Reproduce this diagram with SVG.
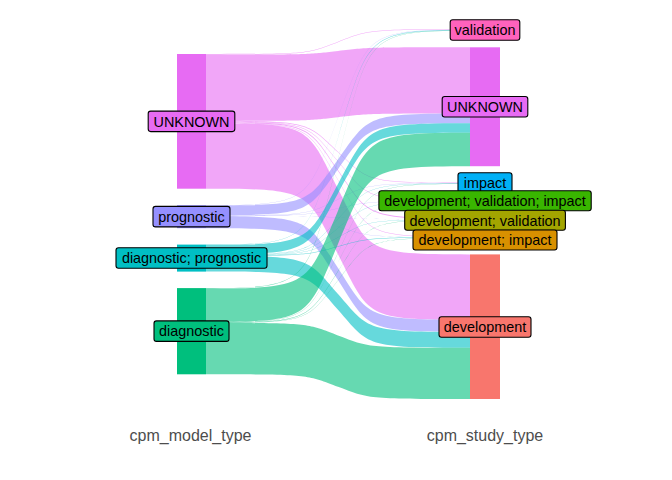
<svg xmlns="http://www.w3.org/2000/svg" width="672" height="480" viewBox="0 0 672 480">
<style>
.lbl{font-family:"Liberation Sans",Arial,sans-serif;font-size:14.4px;fill:#000;text-anchor:middle}
.axis{font-family:"Liberation Sans",Arial,sans-serif;font-size:16px;fill:#4D4D4D;text-anchor:middle}
.box{stroke:#000;stroke-width:1.1}
.fU{fill:#E76BF3;fill-opacity:0.6}
.fP{fill:#9590FF;fill-opacity:0.6}
.fDP{fill:#00BFC4;fill-opacity:0.6}
.fD{fill:#00BF7D;fill-opacity:0.6}
</style>
<rect width="672" height="480" fill="#fff"/>
<g id="connectors">
<path class="fU" d="M206,54 C311.6,54 306.3,53.5 338,41.7 C369.7,29.8 364.4,29.3 470,29.3 L470,29.8 C364.4,29.8 369.7,30.3 338,42.2 C306.3,54 311.6,54.5 206,54.5Z"/>
<path class="fU" d="M206,54.5 C311.6,54.5 306.3,54.4 338,50.9 C369.7,47.4 364.4,47.3 470,47.3 L470,113.6 C364.4,113.6 369.7,113.7 338,117.2 C306.3,120.7 311.6,120.8 206,120.8Z"/>
<path class="fU" d="M206,120.8 C311.6,120.8 306.3,122 338,151.7 C369.7,181.4 364.4,182.6 470,182.6 L470,183.2 C364.4,183.2 369.7,182 338,152.3 C306.3,122.6 311.6,121.4 206,121.4Z"/>
<path class="fU" d="M206,121.4 C311.6,121.4 306.3,123 338,161 C369.7,199 364.4,200.6 470,200.6 L470,201.1 C364.4,201.1 369.7,199.5 338,161.5 C306.3,123.5 311.6,121.9 206,121.9Z"/>
<path class="fU" d="M206,121.9 C311.6,121.9 306.3,123.8 338,170.1 C369.7,216.3 364.4,218.2 470,218.2 L470,219 C364.4,219 369.7,217.1 338,170.9 C306.3,124.6 311.6,122.7 206,122.7Z"/>
<path class="fU" d="M206,122.7 C311.6,122.7 306.3,125 338,179.7 C369.7,234.3 364.4,236.6 470,236.6 L470,237.1 C364.4,237.1 369.7,234.8 338,180.2 C306.3,125.5 311.6,123.2 206,123.2Z"/>
<path class="fU" d="M206,123.2 C311.6,123.2 306.3,125.8 338,188.8 C369.7,251.8 364.4,254.4 470,254.4 L470,319.9 C364.4,319.9 369.7,317.3 338,254.3 C306.3,191.3 311.6,188.7 206,188.7Z"/>
<path class="fP" d="M206,205.2 C311.6,205.2 306.3,201.7 338,117.5 C369.7,33.3 364.4,29.8 470,29.8 L470,30.1 C364.4,30.1 369.7,33.6 338,117.8 C306.3,202 311.6,205.5 206,205.5Z"/>
<path class="fP" d="M206,205.5 C311.6,205.5 306.3,203.7 338,159.6 C369.7,115.4 364.4,113.6 470,113.6 L470,123.3 C364.4,123.3 369.7,125.1 338,169.3 C306.3,213.4 311.6,215.2 206,215.2Z"/>
<path class="fP" d="M206,215.2 C311.6,215.2 306.3,214.6 338,199.2 C369.7,183.8 364.4,183.2 470,183.2 L470,183.5 C364.4,183.5 369.7,184.1 338,199.5 C306.3,214.9 311.6,215.5 206,215.5Z"/>
<path class="fP" d="M206,215.5 C311.6,215.5 306.3,215.2 338,208.3 C369.7,201.4 364.4,201.1 470,201.1 L470,201.3 C364.4,201.3 369.7,201.6 338,208.5 C306.3,215.4 311.6,215.7 206,215.7Z"/>
<path class="fP" d="M206,215.7 C311.6,215.7 306.3,215.8 338,217.4 C369.7,218.9 364.4,219 470,219 L470,219.4 C364.4,219.4 369.7,219.3 338,217.8 C306.3,216.2 311.6,216.1 206,216.1Z"/>
<path class="fP" d="M206,216.1 C311.6,216.1 306.3,216.5 338,226.6 C369.7,236.7 364.4,237.1 470,237.1 L470,237.2 C364.4,237.2 369.7,236.8 338,226.7 C306.3,216.6 311.6,216.2 206,216.2Z"/>
<path class="fP" d="M206,216.2 C311.6,216.2 306.3,218.3 338,268.1 C369.7,317.8 364.4,319.9 470,319.9 L470,331.9 C364.4,331.9 369.7,329.8 338,280.1 C306.3,230.3 311.6,228.2 206,228.2Z"/>
<path class="fDP" d="M206,244.6 C311.6,244.6 306.3,240.3 338,137.4 C369.7,34.4 364.4,30.1 470,30.1 L470,30.4 C364.4,30.4 369.7,34.7 338,137.7 C306.3,240.6 311.6,244.9 206,244.9Z"/>
<path class="fDP" d="M206,244.9 C311.6,244.9 306.3,242.5 338,184.1 C369.7,125.7 364.4,123.3 470,123.3 L470,132.8 C364.4,132.8 369.7,135.2 338,193.6 C306.3,252 311.6,254.4 206,254.4Z"/>
<path class="fDP" d="M206,254.4 C311.6,254.4 306.3,253 338,219 C369.7,184.9 364.4,183.5 470,183.5 L470,183.8 C364.4,183.8 369.7,185.2 338,219.3 C306.3,253.3 311.6,254.7 206,254.7Z"/>
<path class="fDP" d="M206,254.7 C311.6,254.7 306.3,253.6 338,228 C369.7,202.4 364.4,201.3 470,201.3 L470,201.5 C364.4,201.5 369.7,202.6 338,228.2 C306.3,253.8 311.6,254.9 206,254.9Z"/>
<path class="fDP" d="M206,254.9 C311.6,254.9 306.3,254.2 338,237.2 C369.7,220.1 364.4,219.4 470,219.4 L470,219.8 C364.4,219.8 369.7,220.5 338,237.6 C306.3,254.6 311.6,255.3 206,255.3Z"/>
<path class="fDP" d="M206,255.3 C311.6,255.3 306.3,254.9 338,246.3 C369.7,237.6 364.4,237.2 470,237.2 L470,237.7 C364.4,237.7 369.7,238.1 338,246.8 C306.3,255.4 311.6,255.8 206,255.8Z"/>
<path class="fDP" d="M206,255.8 C311.6,255.8 306.3,257.3 338,293.9 C369.7,330.4 364.4,331.9 470,331.9 L470,347.7 C364.4,347.7 369.7,346.2 338,309.7 C306.3,273.1 311.6,271.6 206,271.6Z"/>
<path class="fD" d="M206,288.1 C311.6,288.1 306.3,283 338,159.3 C369.7,35.6 364.4,30.4 470,30.4 L470,30.8 C364.4,30.8 369.7,36 338,159.7 C306.3,283.4 311.6,288.5 206,288.5Z"/>
<path class="fD" d="M206,288.5 C311.6,288.5 306.3,285.4 338,210.7 C369.7,135.9 364.4,132.8 470,132.8 L470,166.2 C364.4,166.2 369.7,169.3 338,244.1 C306.3,318.8 311.6,321.9 206,321.9Z"/>
<path class="fD" d="M206,321.9 C311.6,321.9 306.3,319.1 338,252.9 C369.7,186.6 364.4,183.8 470,183.8 L470,184.1 C364.4,184.1 369.7,186.9 338,253.2 C306.3,319.4 311.6,322.2 206,322.2Z"/>
<path class="fD" d="M206,322.2 C311.6,322.2 306.3,319.8 338,261.9 C369.7,203.9 364.4,201.5 470,201.5 L470,201.7 C364.4,201.7 369.7,204.1 338,262.1 C306.3,320 311.6,322.4 206,322.4Z"/>
<path class="fD" d="M206,322.4 C311.6,322.4 306.3,320.4 338,271.1 C369.7,221.9 364.4,219.8 470,219.8 L470,220.1 C364.4,220.1 369.7,222.2 338,271.4 C306.3,320.7 311.6,322.7 206,322.7Z"/>
<path class="fD" d="M206,322.7 C311.6,322.7 306.3,321 338,280.2 C369.7,239.4 364.4,237.7 470,237.7 L470,238 C364.4,238 369.7,239.7 338,280.5 C306.3,321.3 311.6,323 206,323Z"/>
<path class="fD" d="M206,323 C311.6,323 306.3,323.5 338,335.4 C369.7,347.2 364.4,347.7 470,347.7 L470,399 C364.4,399 369.7,398.5 338,386.7 C306.3,374.8 311.6,374.3 206,374.3Z"/>
</g>
<g id="node-left-unknown">
<rect x="177" y="54" width="29" height="134.7" fill="#E76BF3"/>
<rect class="box" x="148.2" y="111.1" width="86.6" height="20.5" rx="2.5" fill="#E76BF3"/>
<text class="lbl" x="191.5" y="126.5">UNKNOWN</text>
</g>
<g id="node-left-prognostic">
<rect x="177" y="205.2" width="29" height="23" fill="#9590FF"/>
<rect class="box" x="153" y="206.4" width="77" height="20.5" rx="2.5" fill="#9590FF"/>
<text class="lbl" x="191.5" y="221.8">prognostic</text>
</g>
<g id="node-left-diagnostic-prognostic">
<rect x="177" y="244.6" width="29" height="27" fill="#00BFC4"/>
<rect class="box" x="116" y="247.8" width="151" height="20.5" rx="2.5" fill="#00BFC4"/>
<text class="lbl" x="191.5" y="263.2">diagnostic; prognostic</text>
</g>
<g id="node-left-diagnostic">
<rect x="177" y="288.1" width="29" height="86.2" fill="#00BF7D"/>
<rect class="box" x="154" y="320.9" width="75" height="20.5" rx="2.5" fill="#00BF7D"/>
<text class="lbl" x="191.5" y="336.3">diagnostic</text>
</g>
<g id="node-right-validation">
<rect x="470" y="29.3" width="30" height="1.5" fill="#FF62BC"/>
<rect class="box" x="450.2" y="19.8" width="69.6" height="20.5" rx="2.5" fill="#FF62BC"/>
<text class="lbl" x="485" y="35.2">validation</text>
</g>
<g id="node-right-unknown">
<rect x="470" y="47.3" width="30" height="118.9" fill="#E76BF3"/>
<rect class="box" x="442.2" y="96.5" width="85.6" height="20.5" rx="2.5" fill="#E76BF3"/>
<text class="lbl" x="485" y="111.9">UNKNOWN</text>
</g>
<g id="node-right-impact">
<rect x="470" y="182.6" width="30" height="1.5" fill="#00B0F6"/>
<rect class="box" x="458" y="172.7" width="54" height="20" rx="2.5" fill="#00B0F6"/>
<text class="lbl" x="485" y="187.9">impact</text>
</g>
<g id="node-right-dev-val-impact">
<rect x="470" y="200.6" width="30" height="1.1" fill="#39B600"/>
<rect class="box" x="378.9" y="190.7" width="212.3" height="20" rx="2.5" fill="#39B600"/>
<text class="lbl" x="485" y="205.9">development; validation; impact</text>
</g>
<g id="node-right-dev-val">
<rect x="470" y="218.2" width="30" height="1.9" fill="#A3A500"/>
<rect class="box" x="404.7" y="210.3" width="160.7" height="20" rx="2.5" fill="#A3A500"/>
<text class="lbl" x="485" y="225.5">development; validation</text>
</g>
<g id="node-right-dev-impact">
<rect x="470" y="236.6" width="30" height="1.4" fill="#D89000"/>
<rect class="box" x="413" y="230" width="144" height="20" rx="2.5" fill="#D89000"/>
<text class="lbl" x="485" y="245.2">development; impact</text>
</g>
<g id="node-right-development">
<rect x="470" y="254.4" width="30" height="144.6" fill="#F8766D"/>
<rect class="box" x="439" y="316.7" width="92" height="20.5" rx="2.5" fill="#F8766D"/>
<text class="lbl" x="485" y="332.1">development</text>
</g>
<g id="axis-labels">
<text class="axis" x="190.5" y="440.5">cpm_model_type</text>
<text class="axis" x="485" y="440.5">cpm_study_type</text>
</g>
</svg>
